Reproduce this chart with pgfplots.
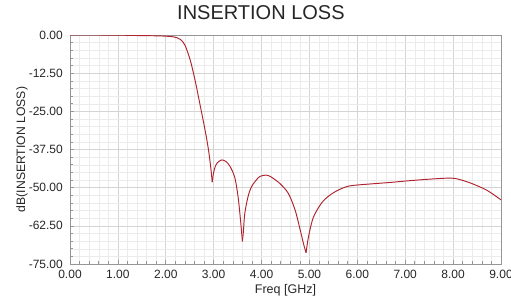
\documentclass[border=0pt]{standalone}
\usepackage{pgfplots}
\pgfplotsset{compat=1.18}
\usepackage{fontspec}
\setmainfont{Liberation Sans}
\definecolor{curvered}{RGB}{175,35,45}
\definecolor{gridmaj}{RGB}{212,212,212}
\definecolor{gridmin}{RGB}{235,235,235}
\definecolor{axisgray}{RGB}{150,150,150}
\begin{document}
\begin{tikzpicture}
\useasboundingbox (-70pt,-41pt) rectangle (441pt,264pt);
\begin{axis}[
  at={(0pt,0pt)}, anchor=south west,
  scale only axis, width=431pt, height=229pt,
  xmin=0, xmax=9, ymin=-75, ymax=0,
  xtick={0,1,2,3,4,5,6,7,8,9},
  xticklabels={0.00,1.00,2.00,3.00,4.00,5.00,6.00,7.00,8.00,9.00},
  ytick={-75,-62.5,-50,-37.5,-25,-12.5,0},
  yticklabels={-75.00,-62.50,-50.00,-37.50,-25.00,-12.50,0.00},
  minor x tick num=4, minor y tick num=4,
  grid=both,
  major grid style={gridmaj, line width=0.6pt},
  minor grid style={gridmin, line width=0.4pt},
  axis line style={axisgray, line width=0.8pt},
  tick pos=left, tick align=inside,
  major tick length=4pt, minor tick length=3pt,
  every tick/.style={axisgray, line width=0.6pt},
  tick label style={font=\fontsize{12}{14}\selectfont, text=black!85},
  xticklabel style={anchor=north, inner sep=0pt, yshift=-6pt},
  yticklabel style={anchor=east, inner sep=0pt, xshift=-7pt},
  xlabel={Freq [GHz]},
  xlabel style={at={(axis description cs:0.5,0)}, anchor=base, yshift=-30pt, font=\fontsize{12.5}{14}\selectfont, text=black!85},
  ylabel={dB(INSERTION LOSS)},
  ylabel style={at={(axis description cs:-0.1044,0.5)}, rotate=0, anchor=base, font=\fontsize{12.2}{14}\selectfont, text=black!85},
  title={INSERTION LOSS},
  title style={at={(axis description cs:0.443,1)}, anchor=base, yshift=10pt, font=\fontsize{20}{22}\selectfont, text=black!85},
]
\addplot[curvered, line width=0.95pt, smooth, tension=0.5] coordinates {
(0,0) (0.5,0) (1.0,-0.05) (1.5,-0.2) (1.88,-0.3) (2.16,-0.6) (2.30,-1.4)
(2.40,-3.3) (2.51,-8.2) (2.61,-14.7) (2.71,-22.4) (2.82,-31.1) (2.89,-37.4)
(2.94,-43.5) (2.97,-48.2)
};
\addplot[curvered, line width=0.95pt, smooth, tension=0.5] coordinates {
(2.97,-48.2) (2.99,-45.8) (3.03,-43.2) (3.08,-41.8) (3.17,-40.9)
(3.26,-41.5) (3.34,-43.0) (3.44,-46.6) (3.51,-53.0) (3.56,-60.5) (3.60,-67.6)
};
\addplot[curvered, line width=0.95pt, smooth, tension=0.5] coordinates {
(3.60,-67.6) (3.62,-64.5) (3.65,-58.4) (3.72,-52.8) (3.79,-49.7) (3.90,-47.3) (3.97,-46.3)
(4.08,-45.9) (4.18,-46.3) (4.38,-48.6) (4.56,-51.9) (4.70,-57.3) (4.80,-63.4)
(4.88,-68.6) (4.93,-71.3)
};
\addplot[curvered, line width=0.95pt, smooth, tension=0.5] coordinates {
(4.93,-71.3) (4.98,-66.1) (5.08,-59.8) (5.25,-55.1) (5.43,-52.4)
(5.64,-50.5) (5.85,-49.4) (6.26,-48.8) (6.68,-48.3) (7.10,-47.7) (7.52,-47.2)
(7.85,-46.9) (8.05,-47.0) (8.35,-48.4) (8.70,-50.8) (9.00,-54.0)
};
\end{axis}
\end{tikzpicture}
\end{document}
